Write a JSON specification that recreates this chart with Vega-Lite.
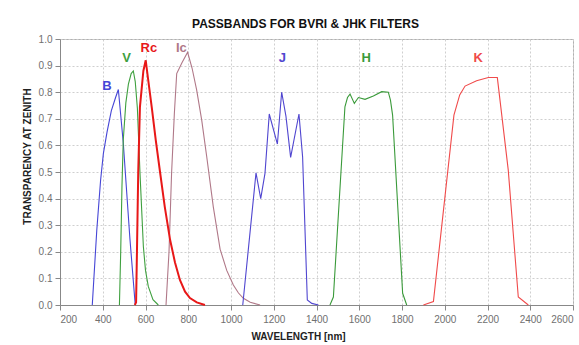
{
  "$schema": "https://vega.github.io/schema/vega-lite/v6.json",
  "autosize": {"type": "none"},
  "width": 513,
  "height": 266,
  "padding": {"left": 60, "top": 39, "right": 6, "bottom": 40},
  "background": "white",
  "title": {
    "text": "PASSBANDS FOR BVRI & JHK FILTERS",
    "font": "Liberation Sans",
    "fontSize": 12,
    "fontWeight": "bold",
    "color": "#111",
    "anchor": "middle",
    "dx": -11,
    "offset": 3
  },
  "datasets": {
    "curves": [
      {"filter": "B", "wl": 351, "t": 0.0},
      {"filter": "B", "wl": 372, "t": 0.28},
      {"filter": "B", "wl": 390, "t": 0.47},
      {"filter": "B", "wl": 403, "t": 0.57},
      {"filter": "B", "wl": 420, "t": 0.65},
      {"filter": "B", "wl": 440, "t": 0.73},
      {"filter": "B", "wl": 460, "t": 0.78},
      {"filter": "B", "wl": 473, "t": 0.81},
      {"filter": "B", "wl": 496, "t": 0.61},
      {"filter": "B", "wl": 527, "t": 0.25},
      {"filter": "B", "wl": 552, "t": 0.0},

      {"filter": "V", "wl": 478, "t": 0.0},
      {"filter": "V", "wl": 484, "t": 0.2},
      {"filter": "V", "wl": 490, "t": 0.45},
      {"filter": "V", "wl": 496, "t": 0.62},
      {"filter": "V", "wl": 508, "t": 0.76},
      {"filter": "V", "wl": 520, "t": 0.83},
      {"filter": "V", "wl": 533, "t": 0.87},
      {"filter": "V", "wl": 543, "t": 0.88},
      {"filter": "V", "wl": 552, "t": 0.84},
      {"filter": "V", "wl": 562, "t": 0.74},
      {"filter": "V", "wl": 574, "t": 0.5},
      {"filter": "V", "wl": 590, "t": 0.22},
      {"filter": "V", "wl": 600, "t": 0.13},
      {"filter": "V", "wl": 613, "t": 0.07},
      {"filter": "V", "wl": 635, "t": 0.02},
      {"filter": "V", "wl": 660, "t": 0.0},

      {"filter": "Rc", "wl": 550, "t": 0.0},
      {"filter": "Rc", "wl": 556, "t": 0.01},
      {"filter": "Rc", "wl": 560, "t": 0.2},
      {"filter": "Rc", "wl": 566, "t": 0.5},
      {"filter": "Rc", "wl": 574, "t": 0.745},
      {"filter": "Rc", "wl": 590, "t": 0.88},
      {"filter": "Rc", "wl": 601, "t": 0.92},
      {"filter": "Rc", "wl": 612, "t": 0.85},
      {"filter": "Rc", "wl": 629, "t": 0.745},
      {"filter": "Rc", "wl": 648, "t": 0.62},
      {"filter": "Rc", "wl": 668, "t": 0.5},
      {"filter": "Rc", "wl": 690, "t": 0.37},
      {"filter": "Rc", "wl": 715, "t": 0.245},
      {"filter": "Rc", "wl": 738, "t": 0.16},
      {"filter": "Rc", "wl": 761, "t": 0.094},
      {"filter": "Rc", "wl": 785, "t": 0.05},
      {"filter": "Rc", "wl": 808, "t": 0.026},
      {"filter": "Rc", "wl": 840, "t": 0.01},
      {"filter": "Rc", "wl": 878, "t": 0.0},

      {"filter": "Ic", "wl": 696, "t": 0.0},
      {"filter": "Ic", "wl": 710, "t": 0.2},
      {"filter": "Ic", "wl": 722, "t": 0.495},
      {"filter": "Ic", "wl": 735, "t": 0.72},
      {"filter": "Ic", "wl": 746, "t": 0.87},
      {"filter": "Ic", "wl": 770, "t": 0.91},
      {"filter": "Ic", "wl": 797, "t": 0.95},
      {"filter": "Ic", "wl": 818, "t": 0.89},
      {"filter": "Ic", "wl": 839, "t": 0.81},
      {"filter": "Ic", "wl": 863, "t": 0.695},
      {"filter": "Ic", "wl": 886, "t": 0.56},
      {"filter": "Ic", "wl": 917, "t": 0.37},
      {"filter": "Ic", "wl": 949, "t": 0.21},
      {"filter": "Ic", "wl": 980, "t": 0.13},
      {"filter": "Ic", "wl": 1011, "t": 0.075},
      {"filter": "Ic", "wl": 1035, "t": 0.045},
      {"filter": "Ic", "wl": 1058, "t": 0.025},
      {"filter": "Ic", "wl": 1090, "t": 0.01},
      {"filter": "Ic", "wl": 1136, "t": 0.0},

      {"filter": "J", "wl": 1055, "t": 0.0},
      {"filter": "J", "wl": 1117, "t": 0.497},
      {"filter": "J", "wl": 1139, "t": 0.4},
      {"filter": "J", "wl": 1159, "t": 0.495},
      {"filter": "J", "wl": 1179, "t": 0.718},
      {"filter": "J", "wl": 1217, "t": 0.605},
      {"filter": "J", "wl": 1237, "t": 0.8},
      {"filter": "J", "wl": 1257, "t": 0.71},
      {"filter": "J", "wl": 1279, "t": 0.555},
      {"filter": "J", "wl": 1318, "t": 0.718},
      {"filter": "J", "wl": 1335, "t": 0.557},
      {"filter": "J", "wl": 1357, "t": 0.019},
      {"filter": "J", "wl": 1378, "t": 0.006},
      {"filter": "J", "wl": 1409, "t": 0.0},

      {"filter": "H", "wl": 1463, "t": 0.0},
      {"filter": "H", "wl": 1479, "t": 0.03},
      {"filter": "H", "wl": 1533, "t": 0.745},
      {"filter": "H", "wl": 1545, "t": 0.78},
      {"filter": "H", "wl": 1557, "t": 0.793},
      {"filter": "H", "wl": 1577, "t": 0.758},
      {"filter": "H", "wl": 1596, "t": 0.78},
      {"filter": "H", "wl": 1627, "t": 0.773},
      {"filter": "H", "wl": 1666, "t": 0.786},
      {"filter": "H", "wl": 1705, "t": 0.802},
      {"filter": "H", "wl": 1736, "t": 0.8},
      {"filter": "H", "wl": 1746, "t": 0.77},
      {"filter": "H", "wl": 1756, "t": 0.714},
      {"filter": "H", "wl": 1803, "t": 0.044},
      {"filter": "H", "wl": 1822, "t": 0.0},

      {"filter": "K", "wl": 1900, "t": 0.0},
      {"filter": "K", "wl": 1947, "t": 0.013},
      {"filter": "K", "wl": 2043, "t": 0.714},
      {"filter": "K", "wl": 2070, "t": 0.79},
      {"filter": "K", "wl": 2095, "t": 0.823},
      {"filter": "K", "wl": 2149, "t": 0.843},
      {"filter": "K", "wl": 2204, "t": 0.855},
      {"filter": "K", "wl": 2246, "t": 0.855},
      {"filter": "K", "wl": 2297, "t": 0.508},
      {"filter": "K", "wl": 2344, "t": 0.03},
      {"filter": "K", "wl": 2391, "t": 0.0}
    ],
    "labels": [
      {"filter": "B", "wl": 420, "t": 0.825},
      {"filter": "V", "wl": 511, "t": 0.93},
      {"filter": "Rc", "wl": 616, "t": 0.967},
      {"filter": "Ic", "wl": 768, "t": 0.967},
      {"filter": "J", "wl": 1240, "t": 0.927},
      {"filter": "H", "wl": 1633, "t": 0.927},
      {"filter": "K", "wl": 2157, "t": 0.927}
    ]
  },
  "encoding": {
    "x": {
      "field": "wl",
      "type": "quantitative",
      "scale": {"domain": [200, 2600], "nice": false, "zero": false},
      "axis": {
        "title": "WAVELENGTH [nm]",
        "values": [200, 400, 600, 800, 1000, 1200, 1400, 1600, 1800, 2000, 2200, 2400, 2600],
        "format": "d",
        "titleX": 238,
        "titleY": 31,
        "titleBaseline": "middle",
        "titleAnchor": "middle"
      }
    },
    "y": {
      "field": "t",
      "type": "quantitative",
      "scale": {"domain": [0, 1], "nice": false},
      "axis": {
        "title": "TRANSPARENCY AT ZENITH",
        "values": [0, 0.1, 0.2, 0.3, 0.4, 0.5, 0.6, 0.7, 0.8, 0.9, 1.0],
        "format": ".1f",
        "titleX": -33,
        "titleY": 117,
        "titleBaseline": "middle",
        "titleAnchor": "middle"
      }
    },
    "color": {
      "field": "filter",
      "type": "nominal",
      "scale": {
        "domain": ["B", "V", "Rc", "Ic", "J", "H", "K"],
        "range": ["#4646d6", "#3fa03f", "#e81818", "#b07888", "#5046d0", "#3a9a3a", "#f04a4a"]
      },
      "legend": null
    }
  },
  "layer": [
    {
      "data": {"name": "curves"},
      "transform": [{"filter": "datum.filter !== 'Rc'"}],
      "mark": {"type": "line", "strokeWidth": 1.1},
      "encoding": {"detail": {"field": "filter"}}
    },
    {
      "data": {"name": "curves"},
      "transform": [{"filter": "datum.filter === 'Rc'"}],
      "mark": {"type": "line", "strokeWidth": 2},
      "encoding": {}
    },
    {
      "data": {"name": "labels"},
      "mark": {"type": "text", "font": "Liberation Sans", "fontSize": 13, "fontWeight": "bold", "baseline": "middle", "align": "center"},
      "encoding": {"text": {"field": "filter"}}
    }
  ],
  "config": {
    "view": {"stroke": "#b0b0b0", "strokeWidth": 1},
    "axis": {
      "labelFont": "Liberation Sans",
      "labelFontSize": 10,
      "labelColor": "#707070",
      "titleFont": "Liberation Sans",
      "titleFontSize": 10,
      "titleFontWeight": "bold",
      "titleColor": "#222",
      "domainColor": "#888",
      "tickColor": "#888",
      "tickSize": 5,
      "gridColor": "#cfcfcf",
      "gridDash": [2, 2],
      "gridWidth": 1
    },
    "axisY": {"labelPadding": 3},
    "axisX": {"labelPadding": 4}
  }
}
